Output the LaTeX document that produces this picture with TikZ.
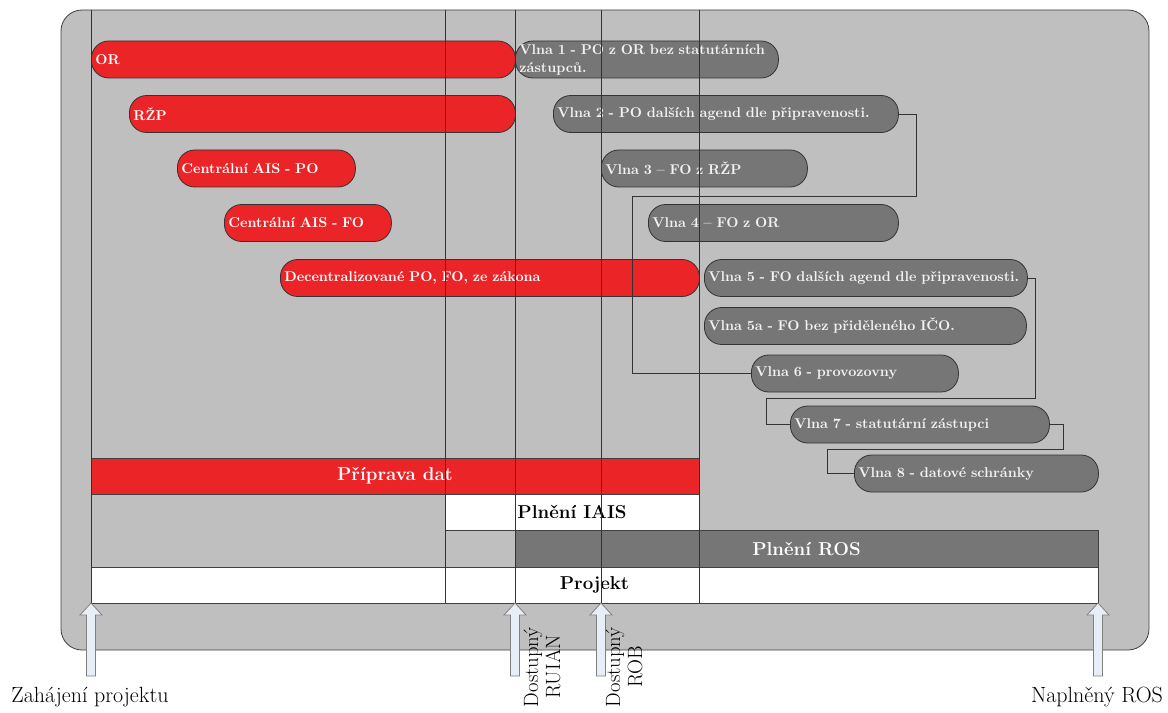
\documentclass[tikz,border=0pt]{standalone}
\usepackage{tikz}

\definecolor{barred}{RGB}{234,36,39}
\definecolor{bargray}{RGB}{118,118,118}
\definecolor{bggray}{RGB}{191,191,191}
\definecolor{arrowfill}{RGB}{232,238,247}

\tikzset{
  task/.style={draw=black!80, line width=0.6pt, rounded corners=13pt, minimum height=27.75pt,
    inner xsep=3pt, inner ysep=0pt, anchor=west, align=left, text=white,
    font=\bfseries\fontsize{10.6}{12}\selectfont},
  redtask/.style={task, fill=barred},
  wave/.style={task, fill=bargray, text=white!95!black},
  band/.style={draw=black!75, line width=0.5pt, inner sep=0pt, minimum height=27pt,
    font=\bfseries\fontsize{14}{16}\selectfont},
  link/.style={draw=black!80, line width=0.6pt},
  gridline/.style={black!80, line width=0.6pt},
  milestone/.style={draw=black!50, fill=arrowfill, line width=0.6pt},
  milelabel/.style={font=\fontsize{16.5}{17}\selectfont, align=center},
  turnlabel/.style={font=\fontsize{15.5}{16.5}\selectfont, align=center, rotate=90, inner sep=1pt},
}

\begin{document}
\begin{tikzpicture}[x=0.75pt,y=-0.75pt]
    \useasboundingbox (0,0) rectangle (1168,713);

    % Background panel
    \draw[fill=bggray, draw=black!75, line width=0.6pt, rounded corners=15.75pt] (61,10) rectangle (1149,650);

    % Adding the source registers
    \node[redtask, text width=312pt] (or) at (91,59.5) {OR};
    \node[redtask, text width=283.5pt] (rzp) at (129,114) {RŽP};
    \node[redtask, text width=127.5pt] (aispo) at (177,168.5) {Centrální AIS - PO};
    \node[redtask, text width=119.25pt] (aisfo) at (224,223) {Centrální AIS - FO};
    \node[redtask, text width=308.25pt] (decent) at (280,278) {Decentralizované PO, FO, ze zákona};

    % Adding the waves
    \node[wave, text width=191.25pt, font=\bfseries\fontsize{10.6}{13.5}\selectfont] (v1) at (515,59.5) {Vlna 1 - PO z OR bez statutárních\\zástupců.};
    \node[wave, text width=252.75pt] (v2) at (553,114) {Vlna 2 - PO dalších agend dle připravenosti.};
    \node[wave, text width=148.5pt] (v3) at (601,168.5) {Vlna 3 -- FO z RŽP};
    \node[wave, text width=181.5pt] (v4) at (648,223) {Vlna 4 -- FO z OR};
    \node[wave, text width=236.25pt] (v5) at (704,278) {Vlna 5 - FO dalších agend dle připravenosti.};
    \node[wave, text width=235.5pt] (v5a) at (704,326) {Vlna 5a - FO bez přiděleného IČO.};
    \node[wave, text width=149.25pt] (v6) at (751,373.5) {Vlna 6 - provozovny};
    \node[wave, text width=188.25pt] (v7) at (790,424.5) {Vlna 7 - statutární zástupci};
    \node[wave, text width=177pt] (v8) at (854,473.5) {Vlna 8 - datové schránky};

    % Adding the phases
    \node[band, fill=barred, text=white, minimum width=456pt] (prip) at (395,476) {Příprava dat};
    \node[band, fill=white, minimum width=190.5pt] (iais) at (572,512) {Plnění IAIS};
    \node[band, fill=bargray, text=white, minimum width=437.25pt, minimum height=27.75pt] (ros) at (806.5,548.5) {Plnění ROS};
    \node[band, fill=white, minimum width=755.25pt] (proj) at (594.5,585) {Projekt};

    % Drawing the links between waves
    \draw[link] (v2.east) -- ++(18,0) |- (632,196) |- (v6.west);
    \draw[link] (v5.east) -- ++(8,0) |- (766,398) |- (v7.west);
    \draw[link] (v7.east) -- ++(14,0) |- (827,449) |- (v8.west);

    % Drawing the milestone lines
    \foreach \x in {91,445,515,601,699}
        \draw[gridline] (\x,10) -- (\x,603);

    % Adding the milestone arrows
    \foreach \x in {91,515,601,1098}
        \draw[milestone] (\x,603) -- (\x+11,615) -- (\x+4.5,615) -- (\x+4.5,676)
            -- (\x-4.5,676) -- (\x-4.5,615) -- (\x-11,615) -- cycle;

    % Adding labels
    \node[milelabel] (start) at (90,697) {Zahájení projektu};
    \node[turnlabel] (ruian) at (542,667) {Dostupný\\RUIAN};
    \node[turnlabel] (rob) at (624,667) {Dostupný\\ROB};
    \node[milelabel] (full) at (1097,697) {Naplněný ROS};
\end{tikzpicture}
\end{document}
